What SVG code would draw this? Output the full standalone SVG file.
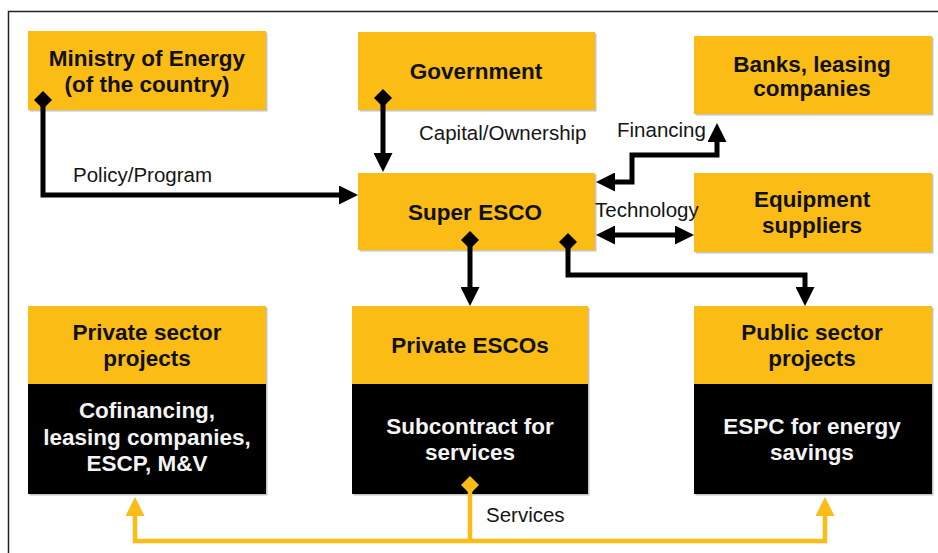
<svg xmlns="http://www.w3.org/2000/svg" width="938" height="553" viewBox="0 0 938 553">
<style>
.y{fill:#FBBC16}
.k{fill:#000}
.sh{fill:#c4c4c4}
.t{font-family:"Liberation Sans",Arial,sans-serif;font-weight:bold;font-size:22.5px;text-anchor:middle;fill:#111}
.w{fill:#f4f4f4}
.l{font-family:"Liberation Sans",Arial,sans-serif;font-size:20.5px;fill:#151515}
.c{fill:none;stroke:#000;stroke-width:5}
.cy{fill:none;stroke:#FBBC16;stroke-width:4.5}
</style>
<defs>
<marker id="ab" markerUnits="userSpaceOnUse" markerWidth="19" markerHeight="19" refX="9" refY="9.5" orient="auto-start-reverse"><path d="M0,0 L19,9.5 L0,19 z" fill="#000"/></marker>
<marker id="db" markerUnits="userSpaceOnUse" markerWidth="18" markerHeight="18" refX="9" refY="9" orient="auto"><path d="M0,9 L9,0 L18,9 L9,18 z" fill="#000"/></marker>
<marker id="ay" markerUnits="userSpaceOnUse" markerWidth="19" markerHeight="19" refX="9" refY="9.5" orient="auto-start-reverse"><path d="M0,0 L19,9.5 L0,19 z" fill="#FBBC16"/></marker>
<marker id="dy" markerUnits="userSpaceOnUse" markerWidth="18" markerHeight="18" refX="9" refY="9" orient="auto"><path d="M0,9 L9,0 L18,9 L9,18 z" fill="#FBBC16"/></marker>
</defs>
<rect width="938" height="553" fill="#fff"/>
<path d="M8.5,553 V11.5 H938" fill="none" stroke="#222" stroke-width="1.5"/>

<g id="ministry">
<rect class="sh" x="29.5" y="32.5" width="238" height="79"/>
<rect class="y" x="28" y="31" width="238" height="79"/>
<text class="t" x="147" y="66">Ministry of Energy</text>
<text class="t" x="147" y="92">(of the country)</text>
</g>
<g id="government">
<rect class="sh" x="359.5" y="33.5" width="237" height="78"/>
<rect class="y" x="358" y="32" width="237" height="78"/>
<text class="t" x="476" y="79">Government</text>
</g>
<g id="banks">
<rect class="sh" x="695.5" y="37.5" width="238" height="78"/>
<rect class="y" x="694" y="36" width="238" height="78"/>
<text class="t" x="812" y="72">Banks, leasing</text>
<text class="t" x="812" y="96">companies</text>
</g>
<g id="super-esco">
<rect class="sh" x="359.5" y="174.5" width="237" height="77"/>
<rect class="y" x="358" y="173" width="237" height="77"/>
<text class="t" x="475" y="220">Super ESCO</text>
</g>
<g id="equipment">
<rect class="sh" x="695.5" y="174.5" width="238" height="79"/>
<rect class="y" x="694" y="173" width="238" height="79"/>
<text class="t" x="812" y="207">Equipment</text>
<text class="t" x="812" y="233">suppliers</text>
</g>
<g id="private-sector">
<rect class="sh" x="29.5" y="307.5" width="238" height="188"/>
<rect class="y" x="28" y="306" width="238" height="78"/>
<rect class="k" x="28" y="384" width="238" height="110"/>
<text class="t" x="147" y="340">Private sector</text>
<text class="t" x="147" y="366">projects</text>
<text class="t w" x="147" y="418">Cofinancing,</text>
<text class="t w" x="147" y="445">leasing companies,</text>
<text class="t w" x="147" y="471">ESCP, M&amp;V</text>
</g>
<g id="private-escos">
<rect class="sh" x="353.5" y="307.5" width="236" height="188"/>
<rect class="y" x="352" y="306" width="236" height="78"/>
<rect class="k" x="352" y="384" width="236" height="110"/>
<text class="t" x="470" y="353">Private ESCOs</text>
<text class="t w" x="470" y="434">Subcontract for</text>
<text class="t w" x="470" y="460">services</text>
</g>
<g id="public-sector">
<rect class="sh" x="695.5" y="307.5" width="238" height="188"/>
<rect class="y" x="694" y="306" width="238" height="78"/>
<rect class="k" x="694" y="384" width="238" height="110"/>
<text class="t" x="812" y="340">Public sector</text>
<text class="t" x="812" y="366">projects</text>
<text class="t w" x="812" y="434">ESPC for energy</text>
<text class="t w" x="812" y="460">savings</text>
</g>

<g id="connectors">
<path class="c" d="M43,100 V195 H348" marker-start="url(#db)" marker-end="url(#ab)"/>
<path class="c" d="M383,98 V162" marker-start="url(#db)" marker-end="url(#ab)"/>
<path class="c" d="M606,182 H632 V155 H717 V133" marker-start="url(#ab)" marker-end="url(#ab)"/>
<path class="c" d="M606,235 H684" marker-start="url(#ab)" marker-end="url(#ab)"/>
<path class="c" d="M470,240 V296" marker-start="url(#db)" marker-end="url(#ab)"/>
<path class="c" d="M568,242 V275 H805 V296" marker-start="url(#db)" marker-end="url(#ab)"/>
<path class="cy" d="M470,485 V541" marker-start="url(#dy)"/>
<path class="cy" d="M135,507 V541 H825 V507" marker-start="url(#ay)" marker-end="url(#ay)"/>
<text class="l" x="73" y="182">Policy/Program</text>
<text class="l" x="419" y="140">Capital/Ownership</text>
<text class="l" x="617" y="137">Financing</text>
<text class="l" x="595" y="217">Technology</text>
<text class="l" x="486" y="522">Services</text>
</g>
</svg>
